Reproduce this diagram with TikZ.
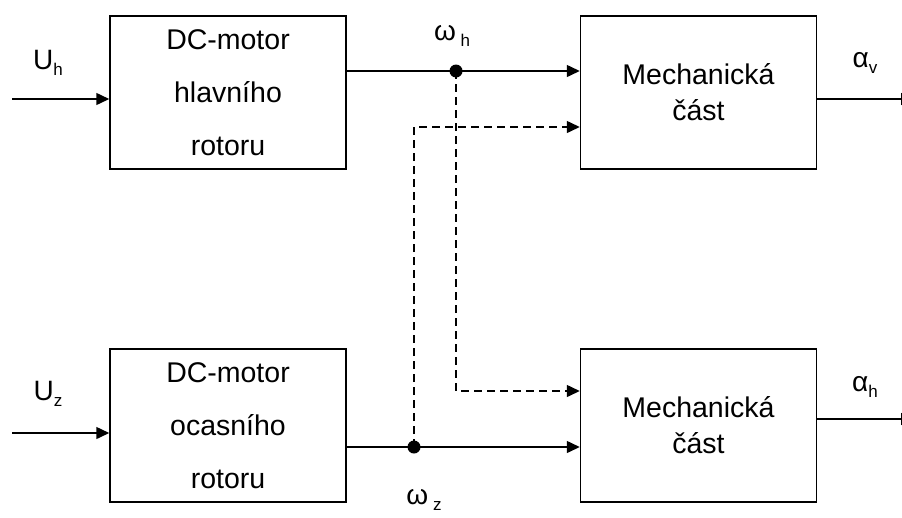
\documentclass[tikz,border=0pt]{standalone}
\usepackage{fontspec}
\setmainfont{Liberation Sans}
\usetikzlibrary{arrows.meta}

% small lowered index for signal names
\newcommand{\idx}[1]{\raisebox{-0.45ex}{\fontsize{17}{17}\selectfont#1}}

\tikzset{
  blok/.style={draw, line width=1.5pt, minimum width=236pt, minimum height=153pt,
    align=center, inner sep=0pt},
  motor/.style={blok, font=\fontsize{28.5}{53}\selectfont},
  mech/.style={blok, font=\fontsize{28.5}{36}\selectfont},
  sig/.style={line width=1.5pt, -{Triangle[length=13pt,width=12pt]}},
  vetev/.style={sig, dash pattern=on 8pt off 5pt},
  uzel/.style={circle, fill, inner sep=0pt, minimum size=13pt},
  popis/.style={font=\fontsize{28}{28}\selectfont, inner sep=0pt},
}

\begin{document}
\begin{tikzpicture}[x=1pt, y=-1pt]
  \clip (0,0) rectangle (902,517);

  % bloky
  \node[motor] (motH) at (228,92.5) {DC-motor\\hlavního\\rotoru};
  \node[motor] (motZ) at (228,425.5) {DC-motor\\ocasního\\rotoru};
  \node[mech] (mechV) at (698.5,92.5) {Mechanická\\část};
  \node[mech] (mechH) at (698.5,425.5) {Mechanická\\část};

  % vstupy, vystupy a odbocky
  \coordinate (inH) at (12,99);
  \coordinate (inZ) at (12,433);
  \coordinate (outV) at (914,99);
  \coordinate (outH) at (914,419);
  \coordinate (wh) at (456,71);
  \coordinate (wz) at (414,447);
  \coordinate (hladV) at (0,127);
  \coordinate (hladH) at (0,391);

  \draw[sig] (inH) -- (inH -| motH.west);
  \draw[sig] (inZ) -- (inZ -| motZ.west);
  \draw[sig] (motH.east |- wh) -- (wh -| mechV.west);
  \draw[sig] (motZ.east |- wz) -- (wz -| mechH.west);
  \draw[vetev] (wh) |- (mechH.west |- hladH);
  \draw[vetev] (wz) |- (mechV.west |- hladV);
  \draw[sig] (mechV.east |- outV) -- (outV);
  \draw[sig] (mechH.east |- outH) -- (outH);

  \node[uzel] (uzelH) at (wh) {};
  \node[uzel] (uzelZ) at (wz) {};

  % popisy signalu
  \node[popis] (lUh) at (48,63) {U\idx{h}};
  \node[popis] (lUz) at (48,394) {U\idx{z}};
  \node[popis] (lwh) at (452,36) {ω\,\idx{h}};
  \node[popis] (lwz) at (424,500) {ω\,\idx{z}};
  \node[popis] (lav) at (865,63) {α\idx{v}};
  \node[popis] (lah) at (865,387) {α\idx{h}};
\end{tikzpicture}
\end{document}
